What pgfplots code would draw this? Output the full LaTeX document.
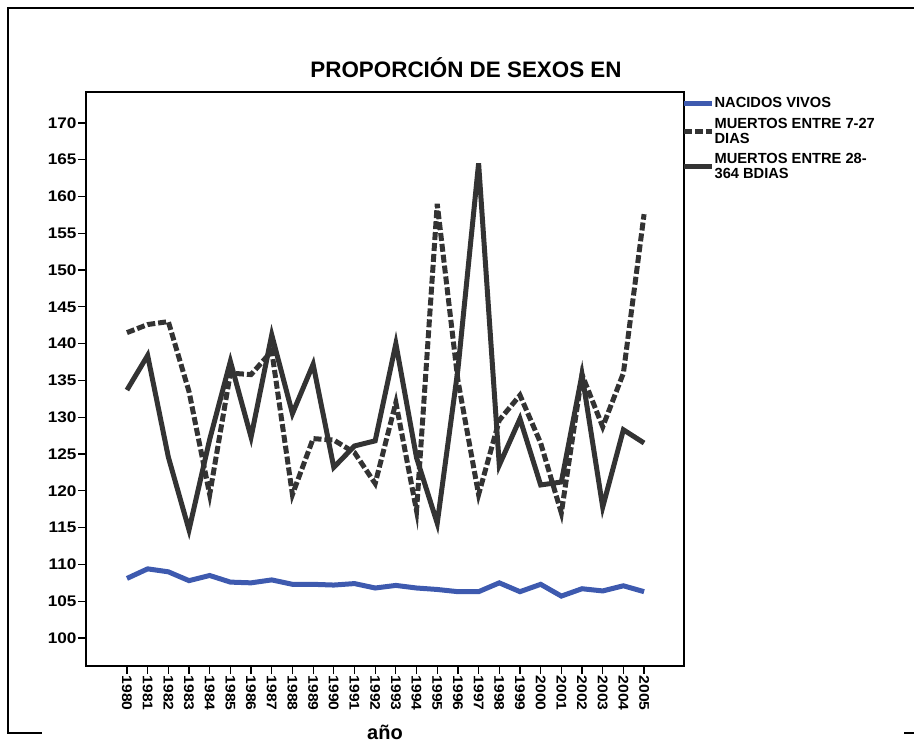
\documentclass[border=0pt]{standalone}
\usepackage{fontspec}
\setmainfont{Liberation Sans}
\newfontfamily\tickfont[FakeStretch=1.12]{Liberation Sans}
\usepackage{pgfplots}
\pgfplotsset{compat=1.18}
\definecolor{nvblue}{RGB}{62,90,175}
\definecolor{dgray}{RGB}{51,51,51}
\pgfplotstableread{
year nv m727 m28
1980 108.1 141.5 133.7
1981 109.4 142.6 138.4
1982 109.0 143.0 124.6
1983 107.8 133.5 114.7
1984 108.5 119.5 127.0
1985 107.6 136.0 137.6
1986 107.5 135.8 127.3
1987 107.9 139.0 141.2
1988 107.3 119.5 130.5
1989 107.3 127.1 137.2
1990 107.2 126.9 123.2
1991 107.4 125.2 126.1
1992 106.8 121.0 126.8
1993 107.15 132.0 140.0
1994 106.8 117.3 124.5
1995 106.6 159.0 115.6
1996 106.3 135.0 136.5
1997 106.3 119.5 164.5
1998 107.5 129.6 123.5
1999 106.3 133.0 129.8
2000 107.3 126.5 120.8
2001 105.7 117.0 121.2
2002 106.7 135.8 135.8
2003 106.4 128.7 117.8
2004 107.1 136.0 128.3
2005 106.3 157.6 126.5
}\datatable
\usepackage{pgfplotstable}
\begin{document}
\begin{tikzpicture}
\useasboundingbox (-64.5pt,-57.75pt) rectangle (621pt,499.5pt);
\draw[line width=1.5pt, black] (-33pt,-50.25pt) -- (-58.5pt,-50.25pt) -- (-58.5pt,493.5pt) -- (621pt,493.5pt);
\draw[line width=1.5pt, black] (613.5pt,-50.25pt) -- (621pt,-50.25pt);
\begin{axis}[
  at={(0,0)}, anchor=south west,
  scale only axis,
  width=448.5pt, height=430.5pt,
  xmin=1978.02, xmax=2006.93,
  ymin=96.2, ymax=174.2,
  xtick={1980,1981,...,2005},
  ytick={100,105,...,170},
  xtick pos=left, ytick pos=left,
  tick align=outside,
  major tick length=6pt,
  every tick/.style={black, line width=0.9pt},
  axis line style={black, line width=1.1pt},
  /pgf/number format/1000 sep={},
  /pgf/number format/assume math mode=true,
  xticklabel style={font=\tickfont\bfseries\fontsize{10.5}{11}\selectfont, rotate=-90, anchor=west, inner sep=1pt},
  yticklabel style={font=\tickfont\bfseries\fontsize{11.5}{12}\selectfont, inner sep=1pt},
  xlabel={año},
  xlabel style={font=\bfseries\fontsize{15}{16}\selectfont, at={(rel axis cs:0.5,-0.1289)}, anchor=base},
  legend cell align=left,
  legend style={at={(rel axis cs:1,1)}, anchor=north west, xshift=-2pt, yshift=-4pt, draw=none, fill=none,
    inner sep=0pt, row sep=6pt, column sep=0pt,
    font=\bfseries\fontsize{11}{11.2}\selectfont,
    nodes={align=left, inner sep=0pt}},
  legend image code/.code={\draw[#1] (0pt,0pt) -- (21pt,0pt);},
  clip=false,
]
\addplot[nvblue, line width=3.75pt, no marks] table[x=year, y=nv] {\datatable};
\addlegendentry{NACIDOS VIVOS}
\addplot[dgray, line width=3.75pt, no marks, dash pattern=on 6pt off 2.2pt] table[x=year, y=m727] {\datatable};
\addlegendentry{MUERTOS ENTRE 7-27\\DIAS}
\addplot[dgray, line width=3.75pt, no marks] table[x=year, y=m28] {\datatable};
\addlegendentry{MUERTOS ENTRE 28-\\364 BDIAS}
\node[font=\bfseries\fontsize{16.8}{17}\selectfont, anchor=base] at (rel axis cs:0.6355,1.0253) {PROPORCIÓN DE SEXOS EN};
\end{axis}
\end{tikzpicture}
\end{document}
